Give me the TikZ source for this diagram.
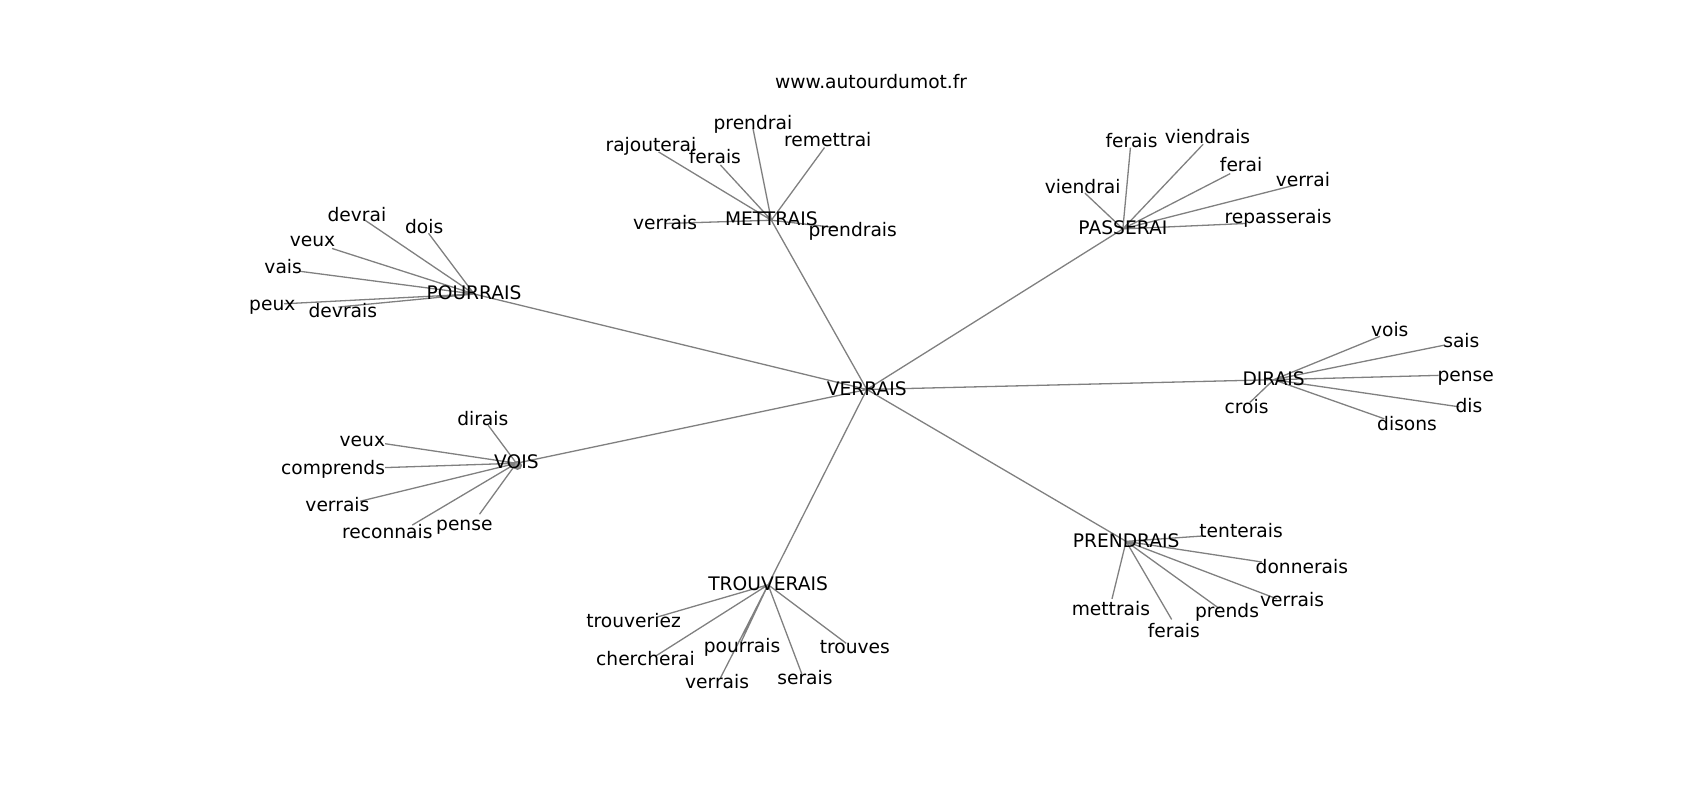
\documentclass[tikz,border=0pt]{standalone}
\usepackage{fontspec}
\setmainfont{DejaVu Sans}
\usetikzlibrary{backgrounds}
\tikzset{
x=1pt, y=-1pt, % one unit per pixel, y going down as in the plot
word/.style={inner sep=0pt, text height=1.05em, text depth=0pt, font=\fontsize{17.2}{20}\selectfont}, % every printed word
link/.style={draw=black!50, line width=1.2pt}, % the grey edges
}

\begin{document}
\begin{tikzpicture}
\useasboundingbox (0,0) rectangle (1567,737);
\node[word] (title) at (803,76) {www.autourdumot.fr};
% hubs
\node[word] (verrais) at (799,359) {VERRAIS};
\node[word] (pourrais) at (437,271) {POURRAIS};
\node[word] (mettrais) at (711,203) {METTRAIS};
\node[word] (passerai) at (1035,211) {PASSERAI};
\node[word] (dirais) at (1174,350) {DIRAIS};
\node[word] (vois) at (476,427) {VOIS};
\node[word] (trouverais) at (708,539) {TROUVERAIS};
\node[word] (prendrais) at (1038,499) {PRENDRAIS};
% ends of the edges
\coordinate (po-devrai) at (335,202);
\coordinate (po-dois) at (395,215);
\coordinate (po-veux) at (306,229);
\coordinate (po-vais) at (276,250);
\coordinate (po-peux) at (262,280);
\coordinate (po-devrais) at (312,283);
\coordinate (me-rajouterai) at (607,140);
\coordinate (me-ferais) at (664,152);
\coordinate (me-prendrai) at (694,118);
\coordinate (me-remettrai) at (760,136);
\coordinate (me-verrais) at (614,206);
\coordinate (me-prendrais) at (772,210);
\coordinate (pa-ferais) at (1042,136);
\coordinate (pa-viendrais) at (1109,133);
\coordinate (pa-viendrai) at (1000,178);
\coordinate (pa-ferai) at (1134,160);
\coordinate (pa-verrai) at (1196,170);
\coordinate (pa-repasserais) at (1148,206);
\coordinate (di-vois) at (1272,310);
\coordinate (di-sais) at (1332,318);
\coordinate (di-pense) at (1326,346);
\coordinate (di-dis) at (1345,375);
\coordinate (di-disons) at (1276,386);
\coordinate (di-crois) at (1152,371);
\coordinate (vo-dirais) at (450,392);
\coordinate (vo-veux) at (355,409);
\coordinate (vo-comprends) at (355,431);
\coordinate (vo-verrais) at (332,462);
\coordinate (vo-reconnais) at (380,484);
\coordinate (vo-pense) at (442,474);
\coordinate (tr-trouveriez) at (605,569);
\coordinate (tr-chercherai) at (604,605);
\coordinate (tr-pourrais) at (683,592);
\coordinate (tr-verrais) at (664,625);
\coordinate (tr-serais) at (739,621);
\coordinate (tr-trouves) at (780,593);
\coordinate (pr-tenterais) at (1109,494);
\coordinate (pr-donnerais) at (1163,518);
\coordinate (pr-verrais) at (1177,552);
\coordinate (pr-prends) at (1124,561);
\coordinate (pr-ferais) at (1080,571);
\coordinate (pr-mettrais) at (1025,552);
% words
\node[word] (t-po-devrai) at (329,199) {devrai};
\node[word] (t-po-dois) at (391,210) {dois};
\node[word] (t-po-veux) at (288,222) {veux};
\node[word] (t-po-vais) at (261,247) {vais};
\node[word] (t-po-peux) at (251,281) {peux};
\node[word] (t-po-devrais) at (316,287) {devrais};
\node[word] (t-me-rajouterai) at (600,134) {rajouterai};
\node[word] (t-me-ferais) at (659,145) {ferais};
\node[word] (t-me-prendrai) at (694,114) {prendrai};
\node[word] (t-me-remettrai) at (763,130) {remettrai};
\node[word] (t-me-verrais) at (613,206) {verrais};
\node[word] (t-me-prendrais) at (786,213) {prendrais};
\node[word] (t-pa-ferais) at (1043,131) {ferais};
\node[word] (t-pa-viendrais) at (1113,127) {viendrais};
\node[word] (t-pa-viendrai) at (998,173) {viendrai};
\node[word] (t-pa-ferai) at (1144,153) {ferai};
\node[word] (t-pa-verrai) at (1201,167) {verrai};
\node[word] (t-pa-repasserais) at (1178,201) {repasserais};
\node[word] (t-di-vois) at (1281,305) {vois};
\node[word] (t-di-sais) at (1347,315) {sais};
\node[word] (t-di-pense) at (1351,346) {pense};
\node[word] (t-di-dis) at (1354,375) {dis};
\node[word] (t-di-disons) at (1297,392) {disons};
\node[word] (t-di-crois) at (1149,376) {crois};
\node[word] (t-vo-dirais) at (445,387) {dirais};
\node[word] (t-vo-veux) at (334,406) {veux};
\node[word] (t-vo-comprends) at (307,432) {comprends};
\node[word] (t-vo-verrais) at (311,466) {verrais};
\node[word] (t-vo-reconnais) at (357,491) {reconnais};
\node[word] (t-vo-pense) at (428,484) {pense};
\node[word] (t-tr-trouveriez) at (584,573) {trouveriez};
\node[word] (t-tr-chercherai) at (595,608) {chercherai};
\node[word] (t-tr-pourrais) at (684,596) {pourrais};
\node[word] (t-tr-verrais) at (661,629) {verrais};
\node[word] (t-tr-serais) at (742,626) {serais};
\node[word] (t-tr-trouves) at (788,597) {trouves};
\node[word] (t-pr-tenterais) at (1144,490) {tenterais};
\node[word] (t-pr-donnerais) at (1200,523) {donnerais};
\node[word] (t-pr-verrais) at (1191,554) {verrais};
\node[word] (t-pr-prends) at (1131,564) {prends};
\node[word] (t-pr-ferais) at (1082,582) {ferais};
\node[word] (t-pr-mettrais) at (1024,562) {mettrais};
\begin{pgfonlayer}{background}
\draw[link] (verrais.center) -- (pourrais.center)
 (verrais.center) -- (mettrais.center)
 (verrais.center) -- (passerai.center)
 (verrais.center) -- (dirais.center)
 (verrais.center) -- (vois.center)
 (verrais.center) -- (trouverais.center)
 (verrais.center) -- (prendrais.center);
\draw[link] (pourrais.center) -- (po-devrai) (pourrais.center) -- (po-dois)
 (pourrais.center) -- (po-veux) (pourrais.center) -- (po-vais)
 (pourrais.center) -- (po-peux) (pourrais.center) -- (po-devrais);
\draw[link] (mettrais.center) -- (me-rajouterai) (mettrais.center) -- (me-ferais)
 (mettrais.center) -- (me-prendrai) (mettrais.center) -- (me-remettrai)
 (mettrais.center) -- (me-verrais) (mettrais.center) -- (me-prendrais);
\draw[link] (passerai.center) -- (pa-ferais) (passerai.center) -- (pa-viendrais)
 (passerai.center) -- (pa-viendrai) (passerai.center) -- (pa-ferai)
 (passerai.center) -- (pa-verrai) (passerai.center) -- (pa-repasserais);
\draw[link] (dirais.center) -- (di-vois) (dirais.center) -- (di-sais)
 (dirais.center) -- (di-pense) (dirais.center) -- (di-dis)
 (dirais.center) -- (di-disons) (dirais.center) -- (di-crois);
\draw[link] (vois.center) -- (vo-dirais) (vois.center) -- (vo-veux)
 (vois.center) -- (vo-comprends) (vois.center) -- (vo-verrais)
 (vois.center) -- (vo-reconnais) (vois.center) -- (vo-pense);
\draw[link, fill=black!40] ([shift={(1,2)}]vois.center) circle (3.5); % loop on VOIS
\draw[link] (trouverais.center) -- (tr-trouveriez) (trouverais.center) -- (tr-chercherai)
 (trouverais.center) -- (tr-pourrais) (trouverais.center) -- (tr-verrais)
 (trouverais.center) -- (tr-serais) (trouverais.center) -- (tr-trouves);
\draw[link] (prendrais.center) -- (pr-tenterais) (prendrais.center) -- (pr-donnerais)
 (prendrais.center) -- (pr-verrais) (prendrais.center) -- (pr-prends)
 (prendrais.center) -- (pr-ferais) (prendrais.center) -- (pr-mettrais);
\end{pgfonlayer}
\end{tikzpicture}
\end{document}
